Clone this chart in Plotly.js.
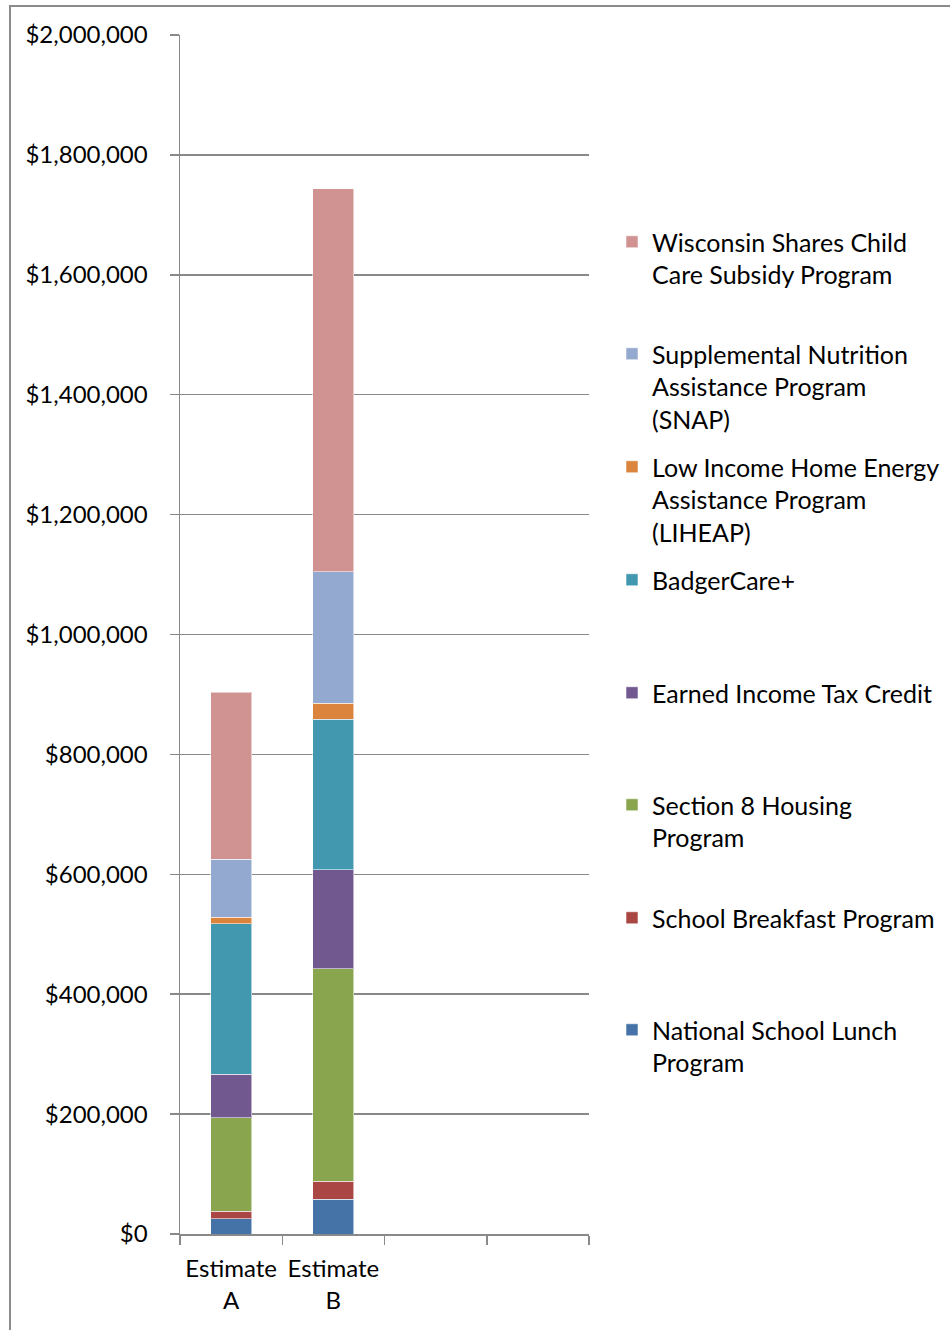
<!DOCTYPE html>
<html>
<head>
<meta charset="utf-8">
<script src="https://cdn.plot.ly/plotly-3.0.1.min.js"></script>
<style>
  html, body { margin: 0; padding: 0; background: #ffffff; }
  #chart { width: 950px; height: 1330px; }
</style>
</head>
<body>
<div id="chart"></div>
<script>
// ---- Data ----
const categories = ['Estimate<br>A', 'Estimate<br>B', '\u200b', '\u200b\u200b'];
const barCategories = ['Estimate<br>A', 'Estimate<br>B'];

const nationalSchoolLunch   = [25500, 58300];
const schoolBreakfast       = [12200, 29300];
const section8Housing       = [156200, 355000];
const earnedIncomeTaxCredit = [72200, 165000];
const badgerCarePlus        = [251700, 251200];
const liheap                = [10700, 26200];
const snap                  = [96700, 220000];
const wisconsinShares       = [278800, 638800];

const seriesNames = [
  'National School Lunch<br>Program',
  'School Breakfast Program',
  'Section 8 Housing<br>Program',
  'Earned Income Tax Credit',
  'BadgerCare+',
  'Low Income Home Energy<br>Assistance Program<br>(LIHEAP)',
  'Supplemental Nutrition<br>Assistance Program<br>(SNAP)',
  'Wisconsin Shares Child<br>Care Subsidy Program'
];
const seriesValues = [
  nationalSchoolLunch, schoolBreakfast, section8Housing, earnedIncomeTaxCredit,
  badgerCarePlus, liheap, snap, wisconsinShares
];
const seriesColors = [
  '#4572A7', '#AA4643', '#89A54E', '#71588F',
  '#4198AF', '#DB843D', '#93A9CF', '#D19392'
];
const yTickValues = [0, 200000, 400000, 600000, 800000, 1000000, 1200000, 1400000, 1600000, 1800000, 2000000];

// ---- Geometry helpers (pixel layout of the plot area) ----
const W = 950, H = 1330;
const plotL = 180, plotR = 589, plotT = 35, plotB = 1234;
const pw = plotR - plotL, ph = plotB - plotT;
const px2x = p => (p - plotL) / pw;
const px2y = p => (plotB - p) / ph;

const FONT = 'Lato, "Open Sans", sans-serif';
const FS = 24;
const LFS = 25;
const GRAY = '#898989';

// legend first-line centres (px), bottom series first
const legendCentres = [1031, 919, 806, 694, 581, 468, 355, 243];

const traces = seriesNames.map((name, i) => ({
  type: 'bar',
  name: name,
  x: barCategories,
  y: seriesValues[i],
  marker: { color: seriesColors[i], line: { color: 'rgba(255,255,255,0.55)', width: 1 } },
  legend: i === 0 ? 'legend' : 'legend' + (i + 1),
  hoverinfo: 'name+y'
}));

// helper trace so that the two empty category slots exist on the axis
traces.unshift({
  type: 'scatter', mode: 'markers', x: categories, y: categories.map(() => null),
  showlegend: false, hoverinfo: 'skip', marker: { opacity: 0 }
});

const layout = {
  width: W, height: H,
  margin: { l: plotL, r: W - plotR, t: plotT, b: H - plotB, pad: 0, autoexpand: false },
  paper_bgcolor: '#ffffff',
  plot_bgcolor: '#ffffff',
  font: { family: FONT, size: FS, color: '#000000' },
  barmode: 'stack',
  bargap: 0.6,
  showlegend: true,
  xaxis: {
    type: 'category',
    categoryorder: 'array',
    categoryarray: categories,
    range: [-0.5, 3.5],
    fixedrange: true,
    showgrid: false,
    zeroline: false,
    showline: true, linecolor: GRAY, linewidth: 1.5,
    ticks: 'outside', tickson: 'boundaries', ticklen: 9, tickwidth: 1.5, tickcolor: GRAY,
    tickangle: 0,
    tickfont: { family: FONT, size: FS, color: '#000' },
    ticklabelstandoff: 13
  },
  yaxis: {
    range: [0, 2000000],
    fixedrange: true,
    tickvals: yTickValues,
    tickformat: '$,.0f',
    showgrid: true, gridcolor: GRAY, gridwidth: 1.5,
    zeroline: false,
    showline: true, linecolor: GRAY, linewidth: 1.5,
    ticks: 'outside', ticklen: 9, tickwidth: 1.5, tickcolor: GRAY,
    tickfont: { family: FONT, size: FS, color: '#000' },
    ticklabelstandoff: 17
  },
  shapes: [{
    type: 'rect', xref: 'paper', yref: 'paper', layer: 'below',
    x0: px2x(10), x1: px2x(960), y0: px2y(1340), y1: px2y(6),
    line: { color: '#8c8c8c', width: 2 }, fillcolor: 'rgba(0,0,0,0)'
  }]
};

legendCentres.forEach((c, i) => {
  const key = i === 0 ? 'legend' : 'legend' + (i + 1);
  layout[key] = {
    x: px2x(612), xanchor: 'left',
    y: px2y(c - 24), yanchor: 'top',
    bgcolor: 'rgba(0,0,0,0)', borderwidth: 0,
    font: { family: FONT, size: LFS, color: '#000' },
    valign: 'top',
    itemclick: false, itemdoubleclick: false
  };
});

Plotly.newPlot('chart', traces, layout, { displayModeBar: false, staticPlot: true });
</script>
</body>
</html>
